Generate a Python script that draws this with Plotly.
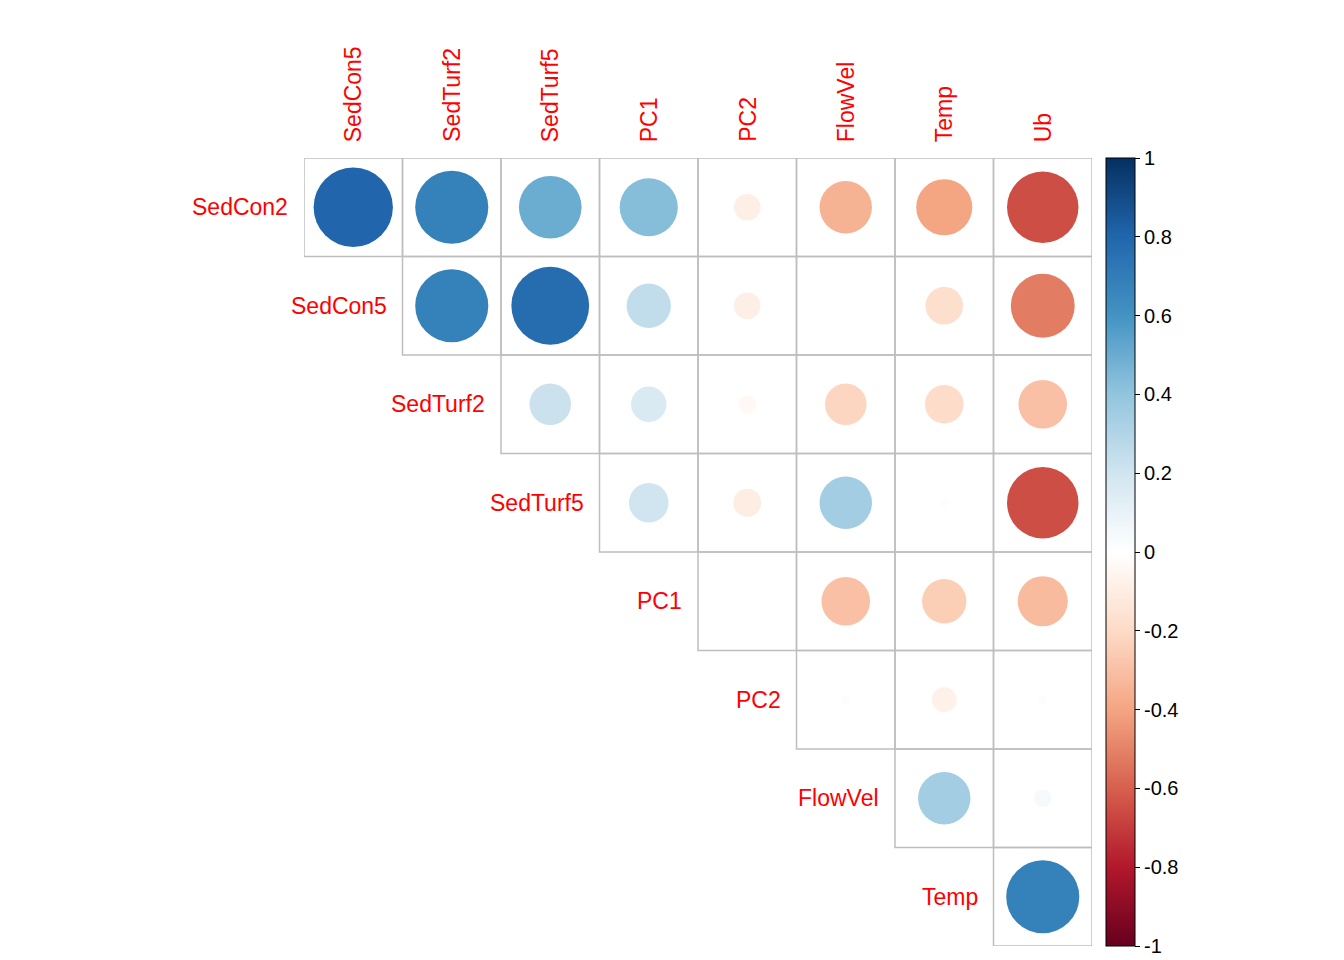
import plotly.graph_objects as go

rows = ["SedCon2","SedCon5","SedTurf2","SedTurf5","PC1","PC2","FlowVel","Temp"]
cols = ["SedCon5","SedTurf2","SedTurf5","PC1","PC2","FlowVel","Temp","Ub"]
vals = [
 [0.80, 0.68, 0.50, 0.43, -0.09, -0.35, -0.40, -0.65],
 [None, 0.68, 0.77, 0.25, -0.09, 0.00, -0.18, -0.52],
 [None, None, 0.22, 0.16, -0.04, -0.22, -0.19, -0.30],
 [None, None, None, 0.20, -0.10, 0.35, -0.01, -0.65],
 [None, None, None, None, 0.00, -0.30, -0.25, -0.32],
 [None, None, None, None, None, -0.01, -0.08, -0.01],
 [None, None, None, None, None, None, 0.35, 0.04],
 [None, None, None, None, None, None, None, 0.68],
]
cscale = ["#67001F","#B2182B","#D6604D","#F4A582","#FDDBC7","#FFFFFF",
          "#D1E5F0","#92C5DE","#4393C3","#2166AC","#053061"]
colorscale = [[i/10, c] for i, c in enumerate(cscale)]

W, H = 1344, 960
L, R, T, B = 296, 1084, 150, 938
cell = (R - L) / 8

xs, ys, cs, ss = [], [], [], []
for i, row in enumerate(vals):
    for j, v in enumerate(row):
        if v is None:
            continue
        xs.append(j + 1); ys.append(i + 1); cs.append(v)
        ss.append(max(0.9 * cell * abs(v) ** 0.5, 0.01))

fig = go.Figure()
fig.add_trace(go.Scatter(
    x=xs, y=ys, mode="markers", hoverinfo="skip",
    marker=dict(size=ss, color=cs, colorscale=colorscale, cmin=-1, cmax=1,
                line=dict(width=0), opacity=1,
                colorbar=dict(thickness=29, len=1, lenmode="fraction", y=0.5, yanchor="middle",
                              x=1 + 14 / (R - L), xanchor="left", xpad=0, ypad=0,
                              tickvals=[-1,-0.8,-0.6,-0.4,-0.2,0,0.2,0.4,0.6,0.8,1],
                              ticktext=["-1","-0.8","-0.6","-0.4","-0.2","0","0.2","0.4","0.6","0.8","1"],
                              ticks="outside", ticklen=5, tickcolor="black",
                              outlinewidth=1, outlinecolor="black",
                              tickfont=dict(family="Liberation Sans", size=20, color="black"))),
    showlegend=False))

shapes = []
for i in range(8):
    for j in range(i, 8):
        shapes.append(dict(type="rect", x0=j + 0.5, x1=j + 1.5, y0=i + 0.5, y1=i + 1.5,
                           line=dict(color="#BEBEBE", width=1.5), layer="below"))
ann = []
for j, c in enumerate(cols):
    ann.append(dict(x=j + 1, y=0.5, xref="x", yref="y", text=c, textangle=-90,
                    showarrow=False, yanchor="bottom", yshift=14,
                    font=dict(family="Liberation Sans", size=23, color="red")))
for i, r in enumerate(rows):
    ann.append(dict(x=i + 0.5, y=i + 1, xref="x", yref="y", text=r,
                    showarrow=False, xanchor="right", xshift=-14,
                    font=dict(family="Liberation Sans", size=23, color="red")))

fig.update_layout(width=W, height=H, plot_bgcolor="white", paper_bgcolor="white",
                  margin=dict(l=L, r=W - R, t=T, b=H - B),
                  xaxis=dict(range=[0.5, 8.5], visible=False),
                  yaxis=dict(range=[8.5, 0.5], visible=False),
                  shapes=shapes, annotations=ann)
fig.write_html("out.html")
